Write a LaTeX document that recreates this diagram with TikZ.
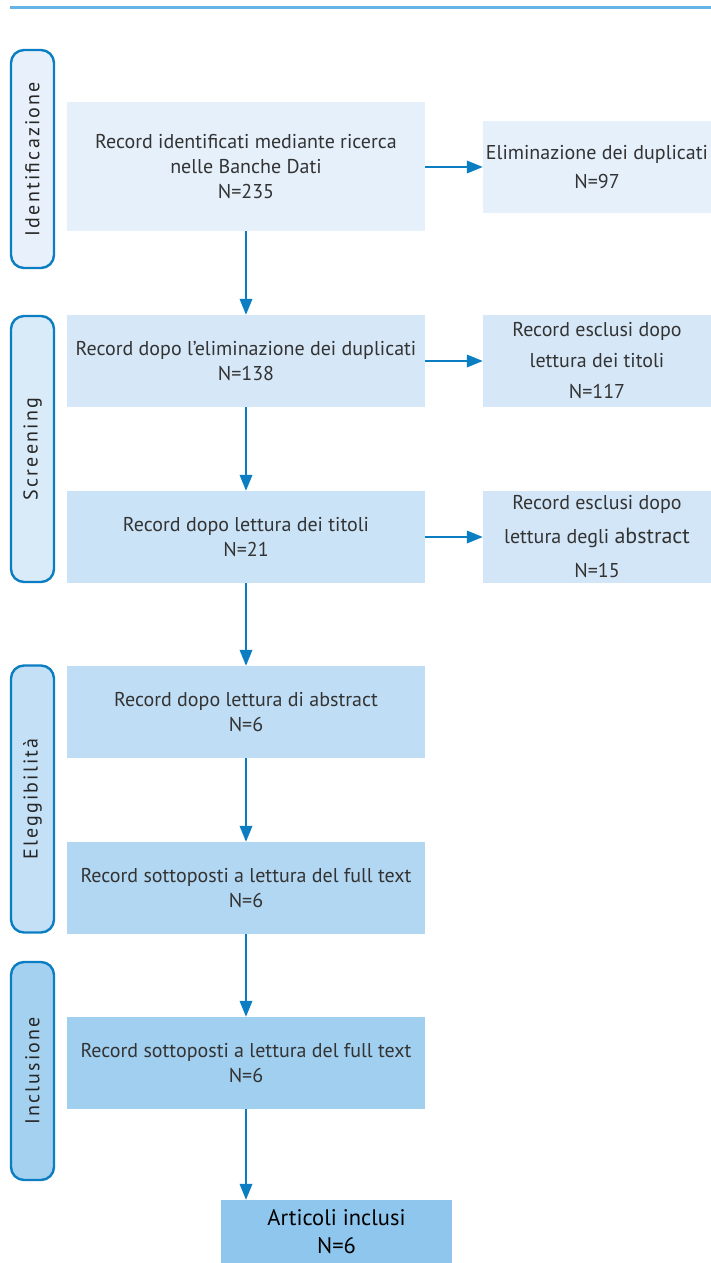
\documentclass[tikz,border=0pt]{standalone}
\usepackage{fontspec}
\setmainfont{PT Sans}
\usetikzlibrary{arrows.meta}
\definecolor{lineblue}{HTML}{0B7DC2}
\definecolor{topblue}{HTML}{64B5E6}
\definecolor{txt}{HTML}{333333}
\definecolor{fA}{HTML}{E5F0FB}
\definecolor{fB}{HTML}{D6E8F8}
\definecolor{fC}{HTML}{CBE3F7}
\definecolor{fD}{HTML}{BFDDF5}
\definecolor{fE}{HTML}{B1D7F3}
\definecolor{fF}{HTML}{A1CFF0}
\definecolor{fG}{HTML}{8EC6ED}
\definecolor{fR3}{HTML}{D3E6F7}
\definecolor{sA}{HTML}{E8F1FB}
\definecolor{sB}{HTML}{D9EAF8}
\definecolor{sC}{HTML}{C3E0F6}
\definecolor{sD}{HTML}{A5D1F0}
\tikzset{
  mainbox/.style={rectangle, inner sep=0pt, minimum width=358pt, minimum height=92pt, text=txt, align=center, font=\fontsize{20}{25}\selectfont},
  sidebox/.style={rectangle, inner sep=0pt, minimum width=228pt, minimum height=92pt, text=txt, align=center, font=\fontsize{20}{31}\selectfont},
  phase/.style={rectangle, rounded corners=13pt, draw=lineblue, line width=2.4pt, inner sep=0pt, minimum height=43pt, rotate=90, text=black!85, font=\fontsize{20}{22}\selectfont\addfontfeature{LetterSpace=11}},
  flow/.style={draw=lineblue, line width=2pt, -{Triangle[length=16pt,width=12.5pt]}}
}
\begin{document}
\begin{tikzpicture}[x=1pt,y=-1pt]
\useasboundingbox (0,0) rectangle (711,1263);
\fill[white] (0,0) rectangle (711,1263);
\draw[topblue, line width=3pt] (10,8) -- (711,8);

% phase labels
\node[phase, fill=sA, minimum width=218pt] (pI) at (32.5,159) {Identificazione};
\node[phase, fill=sB, minimum width=266pt] (pS) at (32.5,449) {Screening};
\node[phase, fill=sC, minimum width=267pt] (pE) at (32.5,799) {Eleggibilità};
\node[phase, fill=sD, minimum width=218pt] (pN) at (32.5,1071) {Inclusione};

% main column
\node[mainbox, fill=fA, minimum height=129pt] (b1) at (246,166.5) {Record identificati mediante ricerca\\nelle Banche Dati\\N=235};
\node[mainbox, fill=fB] (b2) at (246,361) {Record dopo l’eliminazione dei duplicati\\N=138};
\node[mainbox, fill=fC] (b3) at (246,537) {Record dopo lettura dei titoli\\N=21};
\node[mainbox, fill=fD] (b4) at (246,712) {Record dopo lettura di abstract\\N=6};
\node[mainbox, fill=fE] (b5) at (246,888) {Record sottoposti a lettura del full text\\N=6};
\node[mainbox, fill=fF] (b6) at (246,1063) {Record sottoposti a lettura del full text\\N=6};
\node[rectangle, inner sep=0pt, fill=fG, minimum width=231pt, minimum height=63pt, align=center, text=black, font=\fontsize{22.5}{28}\selectfont] (fin) at (336.5,1231.5) {Articoli inclusi\\N=6};

% right column
\node[sidebox, fill=fA, font=\fontsize{20}{29}\selectfont] (r1) at (597,167) {Eliminazione dei duplicati\\N=97};
\node[sidebox, fill=fB] (r2) at (597,361) {Record esclusi dopo\\lettura dei titoli\\N=117};
\node[sidebox, fill=fR3, font=\fontsize{20}{34}\selectfont] (r3) at (597,537) {Record esclusi dopo\\lettura degli {\fontsize{22}{34}\selectfont abstract}\\N=15};

% connectors
\draw[flow] (b1) -- (b2);
\draw[flow] (b2) -- (b3);
\draw[flow] (b3) -- (b4);
\draw[flow] (b4) -- (b5);
\draw[flow] (b5) -- (b6);
\draw[flow] (b6.south) -- (b6.south |- fin.north);
\draw[flow] (b1.east |- r1.west) -- (r1.west);
\draw[flow] (b2) -- (r2);
\draw[flow] (b3) -- (r3);
\end{tikzpicture}
\end{document}
